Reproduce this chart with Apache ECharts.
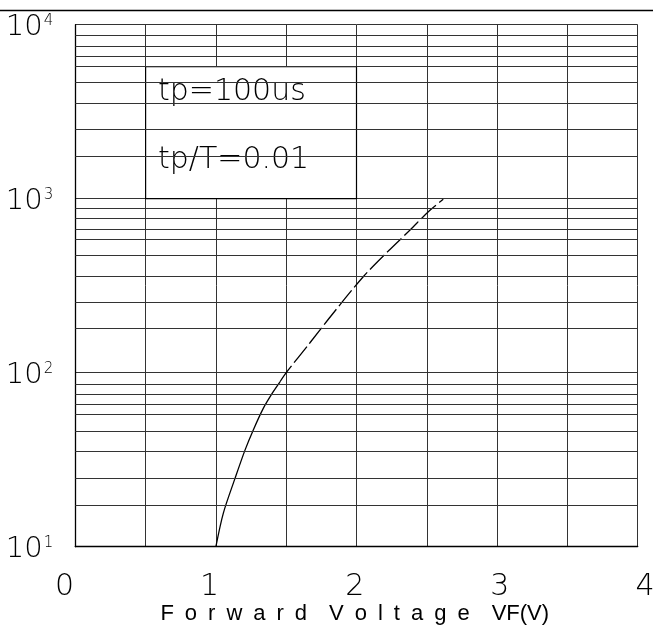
<!DOCTYPE html>
<html>
<head>
<meta charset="utf-8">
<script src="https://cdn.jsdelivr.net/npm/echarts@6/dist/echarts.min.js"></script>
<style>html,body{margin:0;padding:0;background:#fff;}#c{width:653px;height:628px;}</style>
</head>
<body>
<div id="c"></div>
<script>
// ---- data ----
const xTickLabels = [0, 1, 2, 3, 4];
const yMajorTicks = [10, 100, 1000, 10000];
// horizontal minor grid lines as drawn in the reference (values on the log axis)
const yMinorGrid = [17.4, 24.7, 35.2, 46.1, 57.4, 65.5, 74.8, 85.3,
                    179, 254, 358, 473, 587, 670, 768, 877,
                    1750, 2510, 3550, 4670, 5740, 6550, 7550, 8690];
// forward voltage (V) vs forward current: solid part and dashed part
const vfSolidX = [1.0, 1.053, 1.136, 1.207, 1.266, 1.337, 1.408, 1.456];
const vfSolidY = [10, 15.6, 24.7, 35.9, 46.9, 62.4, 77.8, 88.7];
const vfDashX  = [1.456, 1.504, 1.669, 1.824, 2.048, 2.226, 2.381, 2.511, 2.617];
const vfDashY  = [88.7, 101, 148.6, 214.6, 356, 500, 661, 841, 993];
const noteBox = {x0: 0.5, x1: 2.0, y0: 5740, y1: 1000};
const noteLines = ['tp=100us', 'tp/T=0.01'];
const S = '\u2002';
const xTitle = ['Forward', 'Voltage'].map(w => w.split('').join(S)).join(S + S) + S + S + 'VF(V)';

const thinFont = "'DejaVu Sans', sans-serif";
const gridColor = '#333';

const chart = echarts.init(document.getElementById('c'), null, {renderer: 'canvas'});
const option = {
  animation: false,
  backgroundColor: '#fff',
  grid: [
    {left: 75.3, right: 15.3, top: 24.7, bottom: 81.3, containLabel: false, outerBoundsMode: 'none'},
    {left: 64.5, right: 8, top: 24.7, bottom: 81.3, containLabel: false, outerBoundsMode: 'none'}
  ],
  xAxis: [
    {
      gridIndex: 0, type: 'value', min: 0, max: 4, interval: 0.5,
      axisLine: {show: true, lineStyle: {color: '#000', width: 1.3}},
      axisTick: {show: false}, axisLabel: {show: false},
      splitLine: {show: true, lineStyle: {color: gridColor, width: 1}}
    },
    {
      gridIndex: 1, type: 'value', min: xTickLabels[0], max: xTickLabels[xTickLabels.length - 1], interval: 1,
      axisLine: {show: false}, axisTick: {show: false}, splitLine: {show: false},
      axisLabel: {color: '#000', fontSize: 30, fontFamily: thinFont, fontWeight: 200, margin: 26, hideOverlap: false},
      name: xTitle, nameLocation: 'middle', nameGap: 56, nameMoveOverlap: false,
      nameTextStyle: {color: '#000', fontSize: 22, fontFamily: "'Liberation Sans', Arial, sans-serif"}
    }
  ],
  yAxis: [
    {
      gridIndex: 0, type: 'log', logBase: 10, min: yMajorTicks[0], max: yMajorTicks[yMajorTicks.length - 1],
      axisLine: {show: true, lineStyle: {color: '#000', width: 1.3}},
      axisTick: {show: false},
      splitLine: {show: true, lineStyle: {color: gridColor, width: 1}},
      axisLabel: {
        margin: 22,
        padding: [6, 0, 0, 0],
        formatter: v => '{b|10}{s|' + Math.round(Math.log10(v)) + '}',
        rich: {
          b: {fontSize: 29, fontFamily: thinFont, fontWeight: 200, color: '#000'},
          s: {fontSize: 15, fontFamily: thinFont, fontWeight: 200, color: '#000', verticalAlign: 'top', padding: [0, 0, 6, 1]}
        }
      }
    },
    {gridIndex: 1, type: 'value', show: false}
  ],
  graphic: [
    {type: 'line', shape: {x1: 0, y1: 10.5, x2: 653, y2: 10.5}, style: {stroke: '#000', lineWidth: 1.5}}
  ],
  series: [
    {
      type: 'line', data: [], xAxisIndex: 0, yAxisIndex: 0, z: 1,
      markLine: {
        silent: true, symbol: ['none', 'none'], label: {show: false},
        lineStyle: {color: gridColor, width: 1, type: 'solid'},
        data: yMinorGrid.map(v => ({yAxis: v}))
      }
    },
    {
      type: 'line', data: [], xAxisIndex: 0, yAxisIndex: 0, z: 2,
      markArea: {
        silent: true,
        itemStyle: {color: '#fff', borderColor: '#000', borderWidth: 1.2, opacity: 1},
        label: {
          show: true, position: 'insideLeft', distance: 13, offset: [0, -6],
          color: '#000', fontSize: 30, fontFamily: thinFont, fontWeight: 200, lineHeight: 68,
          formatter: noteLines.join('\n')
        },
        data: [[{xAxis: noteBox.x0, yAxis: noteBox.y0}, {xAxis: noteBox.x1, yAxis: noteBox.y1}]]
      }
    },
    {
      type: 'line', xAxisIndex: 0, yAxisIndex: 0, z: 3, symbol: 'none', smooth: 0.3,
      lineStyle: {color: '#000', width: 1.3},
      data: vfSolidX.map((x, i) => [x, vfSolidY[i]])
    },
    {
      type: 'line', xAxisIndex: 0, yAxisIndex: 0, z: 3, symbol: 'none', smooth: 0.3,
      lineStyle: {color: '#000', width: 1.3, type: [20, 4]},
      data: vfDashX.map((x, i) => [x, vfDashY[i]])
    }
  ]
};
chart.setOption(option);
</script>
</body>
</html>
